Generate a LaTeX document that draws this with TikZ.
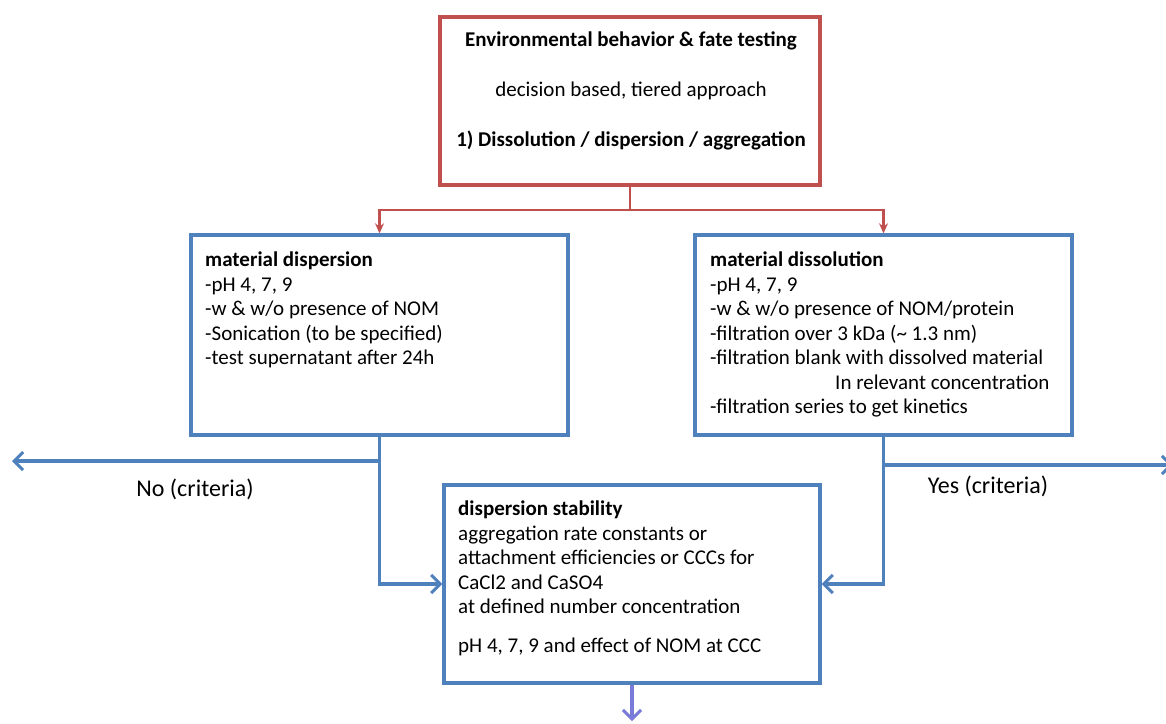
\documentclass[tikz,border=0pt]{standalone}
\usepackage{fontspec}
\setmainfont{Carlito}
\usetikzlibrary{arrows.meta}
\definecolor{boxred}{HTML}{C0504D}
\definecolor{boxblue}{HTML}{4F81BD}
\definecolor{outviolet}{HTML}{7A7AD8}
\begin{document}
\begin{tikzpicture}[x=1pt,y=-1pt,
  redbox/.style={draw=boxred,line width=3.4pt,rectangle,inner sep=0pt},
  bluebox/.style={draw=boxblue,line width=3.4pt,rectangle,inner sep=0pt},
  boxtext/.style={anchor=north west,align=left,inner sep=0pt,font=\fontsize{21}{24.5}\selectfont},
  redline/.style={draw=boxred,line width=2.8pt},
  blueline/.style={draw=boxblue,line width=3.4pt},
  redtip/.style={-{Stealth[length=10pt,width=9pt]}},
  bluetip/.style={-{Straight Barb[length=9pt,width=18pt,line width=3pt]}},
  label/.style={font=\fontsize{24}{28}\selectfont,inner sep=0pt}
]
\useasboundingbox (0,0) rectangle (1166,723);

% boxes
\node[redbox,minimum width=380pt,minimum height=168pt] (top) at (630,101) {};
\node[bluebox,minimum width=377pt,minimum height=200pt] (disp) at (379.5,335) {};
\node[bluebox,minimum width=377pt,minimum height=200pt] (diss) at (883.5,335) {};
\node[bluebox,minimum width=376pt,minimum height=198pt] (stab) at (632,584) {};

% texts
\node[font=\bfseries\fontsize{21}{24}\selectfont,inner sep=0pt] (t1) at (631,41) {Environmental behavior \& fate testing};
\node[font=\fontsize{21}{24}\selectfont,inner sep=0pt] (t2) at (631,91) {decision based, tiered approach};
\node[font=\bfseries\fontsize{21}{24}\selectfont,inner sep=0pt] (t3) at (631,140) {1) Dissolution / dispersion / aggregation};

\node[boxtext] (dispt) at (205,252) {\textbf{material dispersion}\\
-pH 4, 7, 9\\
-w \& w/o presence of NOM\\
-Sonication (to be specified)\\
-test supernatant after 24h};

\node[boxtext] (disst) at (710,252) {\textbf{material dissolution}\\
-pH 4, 7, 9\\
-w \& w/o presence of NOM/protein\\
-filtration over 3 kDa (\textasciitilde{} 1.3 nm)\\
-filtration blank with dissolved material\\
\hspace*{125pt}In relevant concentration\\
-filtration series to get kinetics};

\node[boxtext] (stabt) at (458,501) {\textbf{dispersion stability}\\
aggregation rate constants or\\
attachment efficiencies or CCCs for\\
CaCl2 and CaSO4\\
at defined number concentration\\[14pt]
pH 4, 7, 9 and effect of NOM at CCC};

\node[label] (no) at (195,489) {No (criteria)};
\node[label] (yes) at (988,486) {Yes (criteria)};

% red split from the top box
\coordinate (split) at (630,210);
\draw[redline] (top.south) -- (split);
\draw[redline,redtip] (split) -| (disp.north);
\draw[redline,redtip] (split) -| (diss.north);

% dispersion branch
\coordinate (nobranch) at (379.5,461);
\coordinate (noend) at (12,461);
\draw[blueline,bluetip] (disp.south) |- (stab.west);
\draw[blueline,bluetip] (nobranch) -- (noend);

% dissolution branch
\coordinate (yesbranch) at (883.5,465);
\coordinate (yesend) at (1173,465);
\draw[blueline,bluetip] (diss.south) |- (stab.east);
\draw[blueline,bluetip] (yesbranch) -- (yesend);

% onward arrow
\coordinate (onward) at (632,721);
\draw[draw=outviolet,line width=3.4pt,-{Straight Barb[length=9pt,width=18pt,line width=3pt]}] (stab.south) -- (onward);
\end{tikzpicture}
\end{document}
